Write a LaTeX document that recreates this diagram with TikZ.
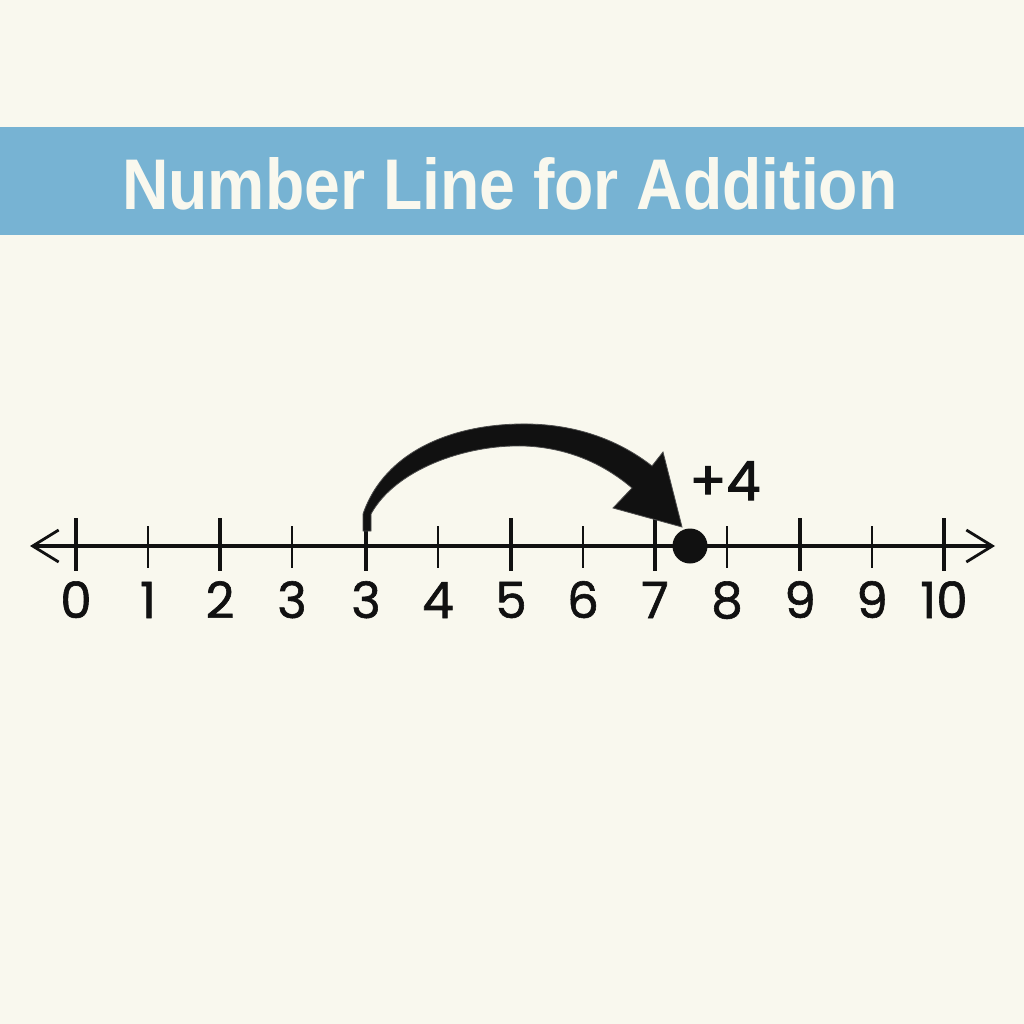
\documentclass[tikz,border=0pt]{standalone}
\usepackage{fontspec}
\setmainfont{Poppins}
\newfontfamily\titlefont{Liberation Sans}
\newfontfamily\labfont[FakeBold=1.2]{Poppins}
\newfontfamily\plusfont[FakeBold=2]{Poppins}
\usetikzlibrary{arrows.meta}
\definecolor{bgcream}{HTML}{F9F8EE}
\definecolor{bannerblue}{HTML}{77B3D3}
\definecolor{inkblack}{HTML}{111111}
\tikzset{
  majortick/.style={line width=3.8pt, draw=inkblack},
  minortick/.style={line width=2.8pt, draw=inkblack},
  numlabel/.style={anchor=base, inner sep=0pt, font=\labfont\fontsize{50}{50}\selectfont, text=inkblack},
  axisline/.style={line width=3.4pt, draw=inkblack, {Straight Barb[length=26pt,width=32pt,line width=2.8pt]}-{Straight Barb[length=26pt,width=32pt,line width=2.8pt]}},
}
\begin{document}
\begin{tikzpicture}[x=1pt,y=-1pt]
\fill[bgcream] (0,0) rectangle (1024,1024);
\useasboundingbox (0,0) rectangle (1024,1024);
% banner
\fill[bannerblue] (0,127) rectangle (1024,235);
\node[anchor=south west, inner sep=0pt, text=bgcream] (title) at (122,210)
  {\resizebox{775pt}{52pt}{\titlefont\bfseries Number Line for Addition}};
% axis
\coordinate (L) at (30,546);
\coordinate (R) at (995,546);
\draw[axisline] (L) -- (R);
% ticks and labels
\foreach \x/\lab/\maj [count=\i] in {76/0/1,148/1/0,220/2/1,292/3/0,366/3/1,438/4/0,511/5/1,583/6/0,655/7/1,727/8/0,800/9/1,872/9/0,944/10/1}{
  \ifnum\maj=1
    \draw[majortick] (\x,518) -- (\x,571);
  \else
    \draw[minortick] (\x,526) -- (\x,568);
  \fi
  \node[numlabel] (n\i) at (\x,618) {\lab};
}
% dot
\fill[inkblack] (690,546) circle (17.5);
\coordinate (dot) at (690,546);
% jump arrow body
\fill[inkblack, draw=black!70, line width=0.8pt]
  (363,531) -- (363,514)
  .. controls (385,450) and (455,423) .. (528,424)
  .. controls (585,425) and (625,445) .. (652,466)
  -- (663,452) -- (682,527) -- (613,508) -- (632,488)
  .. controls (605,465) and (570,448) .. (525,446)
  .. controls (465,444) and (395,470) .. (371,514)
  -- (371,531) -- cycle;
% +4
\node[anchor=base, inner sep=0pt, font=\plusfont\fontsize{54}{54}\selectfont, text=inkblack] (plus) at (725,500) {+4};
\end{tikzpicture}
\end{document}
